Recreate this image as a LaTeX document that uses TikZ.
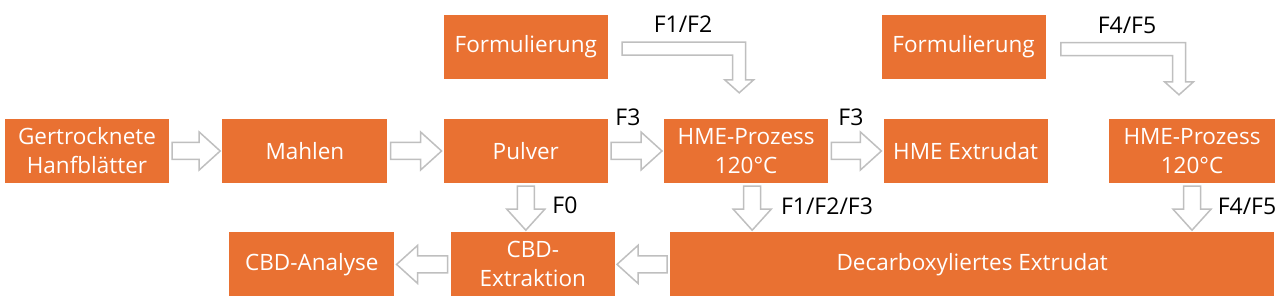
\documentclass[tikz,border=0pt]{standalone}
\usepackage{fontspec}
\setmainfont{Open Sans}
\usetikzlibrary{positioning, calc}
\definecolor{boxorange}{HTML}{E97132}
\definecolor{arrgray}{HTML}{BFBFBF}

\begin{document}
\begin{tikzpicture}[
  x=1pt, y=1pt,
  node distance=56pt,
  stage/.style  ={rectangle, fill=boxorange, text=white,
                  minimum width=164pt, minimum height=64pt, inner sep=2pt,
                  align=center, font=\fontsize{22.5}{29}\selectfont},
  tag/.style    ={text=black, inner sep=1pt, font=\fontsize{23}{27}\selectfont},
  blk/.style    ={draw=arrgray, fill=white, line width=1.5pt,
                  to path={let \p1=($(\tikztostart)!3pt!(\tikztotarget)$),
                               \p2=($(\tikztotarget)!2pt!(\tikztostart)$),
                               \n1={atan2(\y2-\y1,\x2-\x1)} in
                    ($(\p1)+({\n1+90}:8.5pt)$)
                    -- ($(\p2)+(\n1:-21pt)+({\n1+90}:8.5pt)$)
                    -- ($(\p2)+(\n1:-21pt)+({\n1+90}:19pt)$)
                    -- (\p2)
                    -- ($(\p2)+(\n1:-21pt)+({\n1-90}:19pt)$)
                    -- ($(\p2)+(\n1:-21pt)+({\n1-90}:8.5pt)$)
                    -- ($(\p1)+({\n1-90}:8.5pt)$) -- cycle}},
  blkbend/.style={draw=arrgray, fill=white, line width=1.5pt,
                  to path={let \p1=(\tikztostart), \p2=(\tikztotarget) in
                    (\x1,\y1+6.5pt) -- (\x2+6.5pt,\y1+6.5pt)
                    -- (\x2+6.5pt,\y2+13pt) -- (\x2+14.5pt,\y2+13pt)
                    -- (\x2,\y2) -- (\x2-14.5pt,\y2+13pt)
                    -- (\x2-6.5pt,\y2+13pt) -- (\x2-6.5pt,\y1-6.5pt)
                    -- (\x1,\y1-6.5pt) -- cycle}}
]
\useasboundingbox (0,0) rectangle (1280,302);
% ---- Main row --------------------------------------------------------------
\node[stage] (dry) at (87,151) {Gertrocknete\\Hanfblätter};
\node[stage, right=53pt of dry, minimum width=165pt] (mill) {Mahlen};
\node[stage, right=of mill]   (powder) {Pulver};
\node[stage, right=of powder] (hme1)   {HME-Prozess\\120°C};
\node[stage, right=55pt of hme1] (extr) {HME Extrudat};
\node[stage, right=61pt of extr, minimum width=166pt] (hme2) {HME-Prozess\\120°C};
% ---- Formulations ----------------------------------------------------------
\node[stage, above=40pt of powder] (form1) {Formulierung};
\node[stage, above=40pt of extr, xshift=-2pt] (form2) {Formulierung};
% ---- Bottom row ------------------------------------------------------------
\node[stage, below=49pt of powder, xshift=7pt] (extk) {CBD-\\Extraktion};
\node[stage, left=56pt of extk, minimum width=165pt] (ana) {CBD-Analyse};
\node[stage, right=55pt of extk, minimum width=604pt] (decarb) {Decarboxyliertes Extrudat};
% ---- Labels ----------------------------------------------------------------
\node[tag] (t12)  at (683,278)  {F1/F2};
\node[tag] (t45)  at (1127,277) {F4/F5};
\node[tag] (t3a)  at (628,185)  {F3};
\node[tag] (t3b)  at (851,185)  {F3};
\node[tag] (t0)   at (565,97)   {F0};
\node[tag] (t123) at (827,96)   {F1/F2/F3};
\node[tag] (t45b) at (1247,96)  {F4/F5};
% ---- Arrows ----------------------------------------------------------------
\coordinate (out1) at ($(form1.east)+(14,-2)$);
\coordinate (in1)  at ($(hme1.north)+(-7,26)$);
\coordinate (out2) at ($(form2.east)+(15,-2.5)$);
\coordinate (in2)  at ($(hme2.north)+(-13,24)$);
\coordinate (hmeout) at ($(hme1.south)+(6,0)$);
\draw[blk] (dry.east)    to (mill.west);
\draw[blk] (mill.east)   to (powder.west);
\draw[blk] (powder.east) to (hme1.west);
\draw[blk] (hme1.east)   to (extr.west);
\draw[blk] (powder.south) to (powder.south |- extk.north);
\draw[blk] (hmeout)      to (hmeout |- decarb.north);
\draw[blk] (hme2.south)  to (hme2.south |- decarb.north);
\draw[blk] (decarb.west) to (extk.east);
\draw[blk] (extk.west)   to (ana.east);
\draw[blkbend] (out1) to (in1);
\draw[blkbend] (out2) to (in2);
\end{tikzpicture}
\end{document}
